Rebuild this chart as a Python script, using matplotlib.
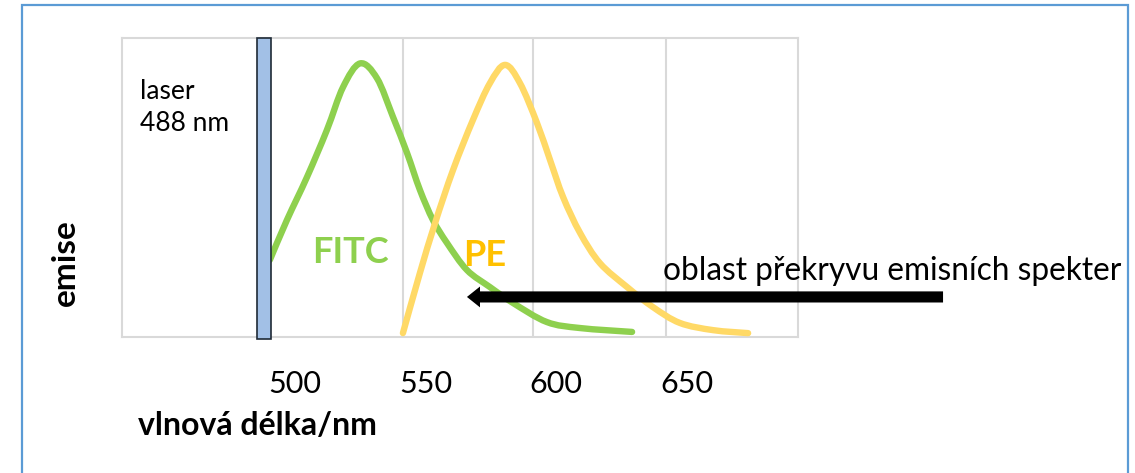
from matplotlib import pyplot as plt
from matplotlib.patches import Rectangle, PathPatch
from matplotlib.path import Path

'''
DATA READ FROM THE PICTURE
'''
fitc_nm = [490.4, 496.9, 504.6, 512.2, 518.4, 524.9, 531.4, 537.5, 542.9, 547.8,
           552.8, 558.2, 565.8, 574.6, 583.4, 596.4, 609.1, 629.0]
fitc_em = [0.258, 0.391, 0.535, 0.692, 0.836, 0.915, 0.865, 0.736, 0.615, 0.492,
           0.391, 0.314, 0.224, 0.167, 0.114, 0.050, 0.030, 0.017]

pe_nm = [541.3, 547.8, 553.6, 560.5, 568.1, 574.6, 580.4, 586.1, 592.6, 597.6,
         602.6, 609.1, 616.7, 627.1, 637.0, 647.3, 660.0, 673.4]
pe_em = [0.013, 0.214, 0.381, 0.559, 0.726, 0.849, 0.910, 0.849, 0.716, 0.592,
         0.468, 0.348, 0.247, 0.167, 0.100, 0.047, 0.023, 0.013]

laser_nm = 488
tick_nm = [500, 550, 600, 650]
grid_nm = [490.4, 541.3, 591.1, 642.0]

overlap_tip = (565.8, 0.134)
overlap_tail = (748.0, 0.134)

GREEN = '#8ED04E'
YELLOW = '#FFD966'
ORANGE = '#FFC000'
FRAME = '#D9D9D9'
FONT = ['Lato', 'DejaVu Sans']


'''
SMOOTHED LINE (like excel "smoothed line"), bezier through the points
'''
def smooth_path(xs, ys):
    pts = list(zip(xs, ys))
    verts = [pts[0]]
    codes = [Path.MOVETO]
    n = len(pts)
    for i in range(n - 1):
        p0 = pts[max(i - 1, 0)]
        p1 = pts[i]
        p2 = pts[i + 1]
        p3 = pts[min(i + 2, n - 1)]
        c1 = (p1[0] + (p2[0] - p0[0]) / 6, p1[1] + (p2[1] - p0[1]) / 6)
        c2 = (p2[0] - (p3[0] - p1[0]) / 6, p2[1] - (p3[1] - p1[1]) / 6)
        verts += [c1, c2, p2]
        codes += [Path.CURVE4] * 3
    return Path(verts, codes)


def draw_curve(ax, xs, ys, color, z):
    patch = PathPatch(smooth_path(xs, ys), facecolor='none', edgecolor=color,
                      linewidth=4.6, capstyle='round', joinstyle='round', zorder=z)
    ax.add_patch(patch)


def main():
    plt.rcParams['font.family'] = FONT

    fig = plt.figure(figsize=(11.35, 4.73), dpi=100)
    ax = fig.add_axes([0.1075, 0.2875, 0.5956, 0.6322])

    # outer blue frame round the whole picture
    fig.patches.append(Rectangle((22 / 1135, -0.05), (1128 - 22) / 1135, 1.05 - 5 / 473,
                                 transform=fig.transFigure, fill=False,
                                 edgecolor='#5B9BD5', linewidth=1.6))

    for g in grid_nm:
        ax.axvline(g, color=FRAME, linewidth=1.5, zorder=0)

    draw_curve(ax, fitc_nm, fitc_em, GREEN, 2)
    draw_curve(ax, pe_nm, pe_em, YELLOW, 3)

    ax.axvspan(laser_nm - 2.7, laser_nm + 2.7, ymin=-0.005, ymax=1.0,
               facecolor='#A2C0E6', edgecolor='#1F2A36', linewidth=1.2, zorder=4,
               clip_on=False)

    ax.set_xlim(433.8, 692.5)
    ax.set_ylim(0, 1)
    ax.set_yticks([])
    ax.set_xticks(tick_nm)
    ax.set_xticklabels([str(t) for t in tick_nm])
    ax.tick_params(axis='x', length=0, pad=24, labelsize=22)
    for s in ax.spines.values():
        s.set_color(FRAME)
        s.set_linewidth(1.5)

    ax.text(0.027, 0.768, 'laser\n488 nm', transform=ax.transAxes, fontsize=19,
            ha='left', va='center', linespacing=1.33)
    ax.text(521.4, 0.281, 'FITC', color=GREEN, fontsize=26, fontweight='bold',
            ha='center', va='center', zorder=5)
    ax.text(572.7, 0.271, 'PE', color=ORANGE, fontsize=26, fontweight='bold',
            ha='center', va='center', zorder=5)

    ax.annotate('', xy=overlap_tip, xytext=overlap_tail,
                arrowprops=dict(arrowstyle='simple,head_length=0.47,head_width=0.75,tail_width=0.4',
                                mutation_scale=20, color='black', lw=0, shrinkA=0, shrinkB=0),
                zorder=6, annotation_clip=False)

    fig.text(663 / 1135, 1 - 271 / 473, 'oblast překryvu emisních spekter',
             fontsize=22.8, ha='left', va='center')
    fig.text(138 / 1135, 1 - 425 / 473, 'vlnová délka/nm', fontsize=23,
             fontweight='bold', ha='left', va='center')
    fig.text(65 / 1135, 1 - 263 / 473, 'emise', fontsize=24, fontweight='bold',
             rotation=90, ha='center', va='center')

    fig.savefig('out.png', dpi=100)


if __name__ == '__main__':
    main()
